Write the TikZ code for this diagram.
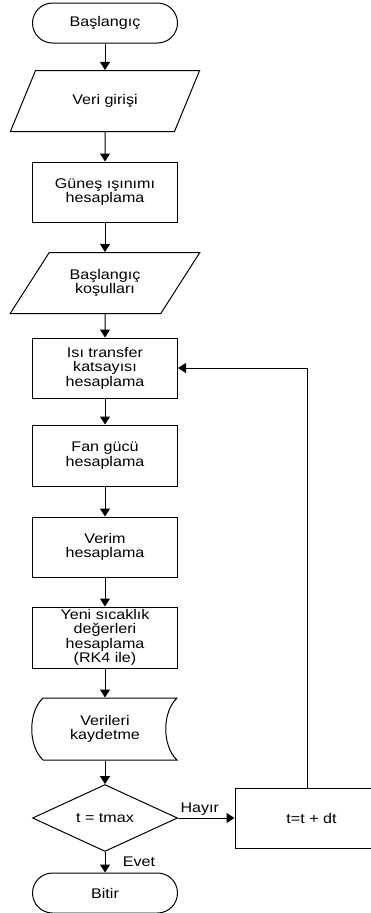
\documentclass[tikz,border=0pt]{standalone}
\usepackage{fontspec}
\setmainfont[FakeStretch = 1.15]{Liberation Sans}
\usetikzlibrary{shapes.geometric,arrows.meta}
\begin{document}
\begin{tikzpicture}[x = 1pt, y = -1pt, line width = 1pt]
	% Fix the size of the picture
	\useasboundingbox (0,0) rectangle (371,913);

	% Custom styles for the boxes and the arrows
	\tikzset{
		chart text/.style = {font = \fontsize{14}{14.4}\selectfont, align = center, text = black},
		term box/.style = {chart text, draw, rectangle, rounded corners = 20pt, minimum width = 145pt, minimum height = 40pt, inner sep = 0pt},
		work box/.style = {chart text, draw, rectangle, minimum width = 145pt, minimum height = 60pt, inner sep = 0pt},
		io box/.style = {chart text, draw, trapezium, trapezium left angle = 48, trapezium right angle = 132, trapezium stretches = true, minimum width = 190pt, minimum height = 61pt, inner sep = 0pt},
		test box/.style = {chart text, draw, diamond, minimum width = 145pt, minimum height = 60pt, inner sep = 0pt},
		flow/.style = {-{Triangle[width = 10pt, length = 8pt]}}
	}

	% Draw the main column of boxes
	\node[term box] (basla) at (105,23) {Başlangıç};
	\node[io box] (veri) at (105,101) {Veri girişi};
	\node[work box] (gunes) at (105,192) {Güneş ışınımı\\hesaplama};
	\node[io box] (kosul) at (105,283) {Başlangıç\\koşulları};
	\node[work box] (isi) at (105,368) {Isı transfer\\katsayısı\\hesaplama};
	\node[work box, minimum height = 61pt] (fan) at (105,455.5) {Fan gücü\\hesaplama};
	\node[work box] (verim) at (105,547) {Verim\\hesaplama};
	\node[work box, minimum height = 61pt] (yeni) at (105,637.5) {Yeni sıcaklık\\değerleri\\hesaplama\\(RK4 ile)};

	% Draw the stored data shape
	\draw (43,698) -- (177,698) .. controls (162,712) and (162,746) .. (177,760)
		-- (43,760) .. controls (28,746) and (28,712) .. (43,698) -- cycle;
	\node[chart text, minimum width = 145pt, minimum height = 62pt, inner sep = 0pt] (kayit) at (105,729) {Verileri\\kaydetme};

	\node[test box] (karar) at (105,818) {t = tmax};
	\node[term box] (bitir) at (105,893) {Bitir};

	% Draw the time step box
	\node[work box, minimum width = 153pt] (adim) at (311.5,818) {t=t + dt};
	\coordinate (geri) at (307,788);

	% Draw the arrows
	\draw[flow] (basla) -- (veri);
	\draw[flow] (veri) -- (gunes);
	\draw[flow] (gunes) -- (kosul);
	\draw[flow] (kosul) -- (isi);
	\draw[flow] (isi) -- (fan);
	\draw[flow] (fan) -- (verim);
	\draw[flow] (verim) -- (yeni);
	\draw[flow] (yeni) -- (kayit);
	\draw[flow] (kayit) -- (karar);
	\draw[flow] (karar) -- (bitir) node[chart text, midway, anchor = west, xshift = 14pt] {Evet};
	\draw[flow] (karar) -- (adim) node[chart text, pos = 0, anchor = south west, inner sep = 2pt] {Hayır};
	\draw[flow] (geri) |- (isi.east);

\end{tikzpicture}
\end{document}
